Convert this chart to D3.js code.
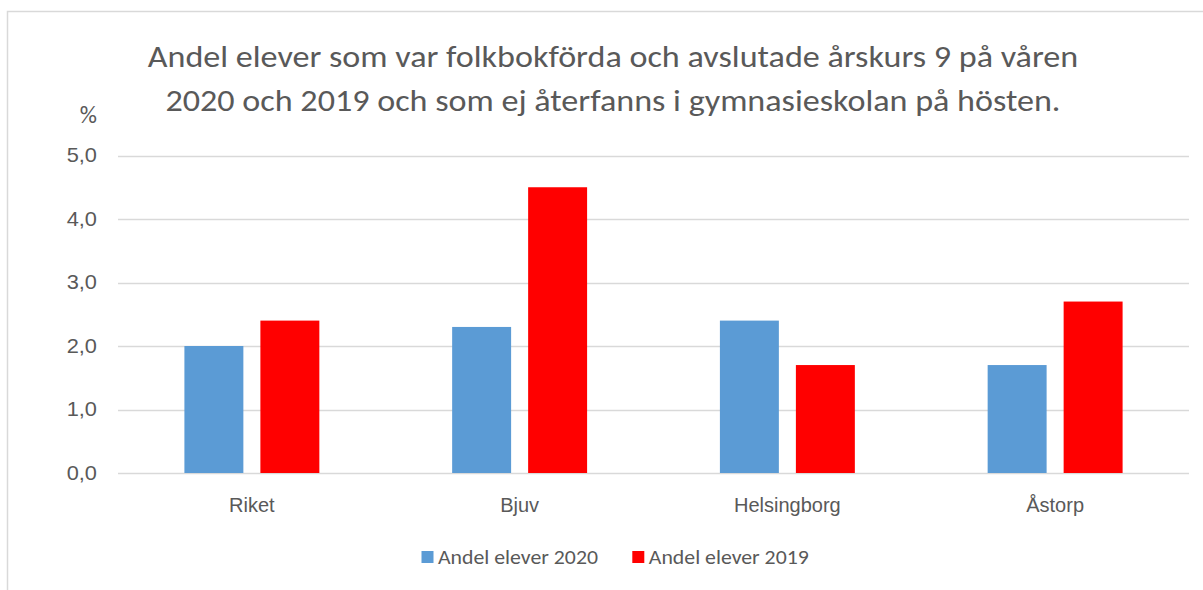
<!DOCTYPE html>
<html>
<head>
<meta charset="utf-8">
<script src="https://cdn.jsdelivr.net/npm/d3@7"></script>
<style>
  html, body { margin: 0; padding: 0; background: #fff; }
  svg { display: block; font-family: Carlito, "Open Sans", sans-serif; }
</style>
</head>
<body>
<svg id="chart" width="1203" height="590"></svg>
<script>
// Kommuner och andel elever (%) som ej återfanns i gymnasieskolan
const categories = ["Riket", "Bjuv", "Helsingborg", "Åstorp"];
const values2020 = [2.0, 2.3, 2.4, 1.7];
const values2019 = [2.4, 4.5, 1.7, 2.7];
const seriesNames = ["Andel elever 2020", "Andel elever 2019"];
const seriesColors = ["#5b9bd5", "#ff0000"];
const yTicks = [0, 1, 2, 3, 4, 5];
const titleLines = [
  "Andel elever som var folkbokförda och avslutade årskurs 9 på våren",
  "2020 och 2019 och som ej återfanns i gymnasieskolan på hösten."
];

const svg = d3.select("#chart");
const textColor = "#595959";
const stretch = 1.09;   // textens bredd i diagrammet

// Diagramram
svg.append("rect")
  .attr("x", 7.5).attr("y", 11.5)
  .attr("width", 1240).attr("height", 640)
  .attr("fill", "#fff")
  .attr("stroke", "#d9d9d9").attr("stroke-width", 1.5);

const plot = { left: 118, right: 1189, top: 155.5, bottom: 473 };

const x0 = d3.scaleBand()
  .domain(categories)
  .range([plot.left, plot.right])
  .paddingInner(0.496)
  .paddingOuter(0.248);

const x1 = d3.scaleBand()
  .domain(seriesNames)
  .range([0, x0.bandwidth()])
  .paddingInner(0.224);

const y = d3.scaleLinear().domain([0, 5]).range([plot.bottom, plot.top]);

// Rutnät
svg.append("g")
  .selectAll("line")
  .data(yTicks)
  .join("line")
  .attr("x1", plot.left).attr("x2", plot.right)
  .attr("y1", d => Math.round(y(d)) + 0.5)
  .attr("y2", d => Math.round(y(d)) + 0.5)
  .attr("stroke", "#d9d9d9").attr("stroke-width", 1.5);

// Y-axel
const yAxis = d3.axisLeft(y)
  .tickValues(yTicks)
  .tickSize(0)
  .tickPadding(21)
  .tickFormat(d => d3.format(".1f")(d).replace(".", ","));

const yg = svg.append("g")
  .attr("transform", `translate(${plot.left},0)`)
  .call(yAxis);
yg.select(".domain").remove();
yg.selectAll("text")
  .attr("x", 0)
  .attr("transform", `translate(-21,0) scale(${stretch},1)`)
  .attr("fill", textColor)
  .style("font-size", "20px")
  .style("font-family", "inherit");

svg.append("text")
  .attr("transform", "translate(97,123)")
  .attr("text-anchor", "end")
  .attr("fill", textColor)
  .style("font-size", "24px")
  .text("%");

// Staplar
const rows = categories.map((c, i) => ({ cat: c, vals: [values2020[i], values2019[i]] }));

svg.append("g")
  .selectAll("g")
  .data(rows)
  .join("g")
  .attr("transform", d => `translate(${x0(d.cat)},0)`)
  .selectAll("rect")
  .data(d => d.vals.map((v, j) => ({ name: seriesNames[j], v, color: seriesColors[j] })))
  .join("rect")
  .attr("x", d => x1(d.name))
  .attr("width", x1.bandwidth())
  .attr("y", d => y(d.v))
  .attr("height", d => y(0) - y(d.v))
  .attr("fill", d => d.color);

// X-axel
const xAxis = d3.axisBottom(x0).tickSize(0);
const xg = svg.append("g")
  .attr("transform", `translate(0,${plot.bottom})`)
  .call(xAxis);
xg.select(".domain").remove();
xg.selectAll("text")
  .attr("y", 38.5).attr("dy", 0)
  .attr("fill", textColor)
  .style("font-size", "20px")
  .style("font-family", "inherit");

// Rubrik
svg.append("g")
  .selectAll("text")
  .data(titleLines)
  .join("text")
  .attr("transform", (d, i) => `translate(613,${67 + i * 44}) scale(1.1,1)`)
  .attr("text-anchor", "middle")
  .attr("fill", textColor)
  .style("font-size", "31px")
  .text(d => d);

// Teckenförklaring
const legendItems = [
  { name: seriesNames[0], color: seriesColors[0], x: 421.5 },
  { name: seriesNames[1], color: seriesColors[1], x: 632.3 }
];
const lg = svg.append("g")
  .selectAll("g")
  .data(legendItems)
  .join("g")
  .attr("transform", d => `translate(${d.x},551)`);
lg.append("rect")
  .attr("width", 12).attr("height", 12)
  .attr("fill", d => d.color);
lg.append("text")
  .attr("transform", `translate(16.5,13) scale(${stretch},1)`)
  .attr("fill", textColor)
  .style("font-size", "20px")
  .text(d => d.name);
</script>
</body>
</html>
